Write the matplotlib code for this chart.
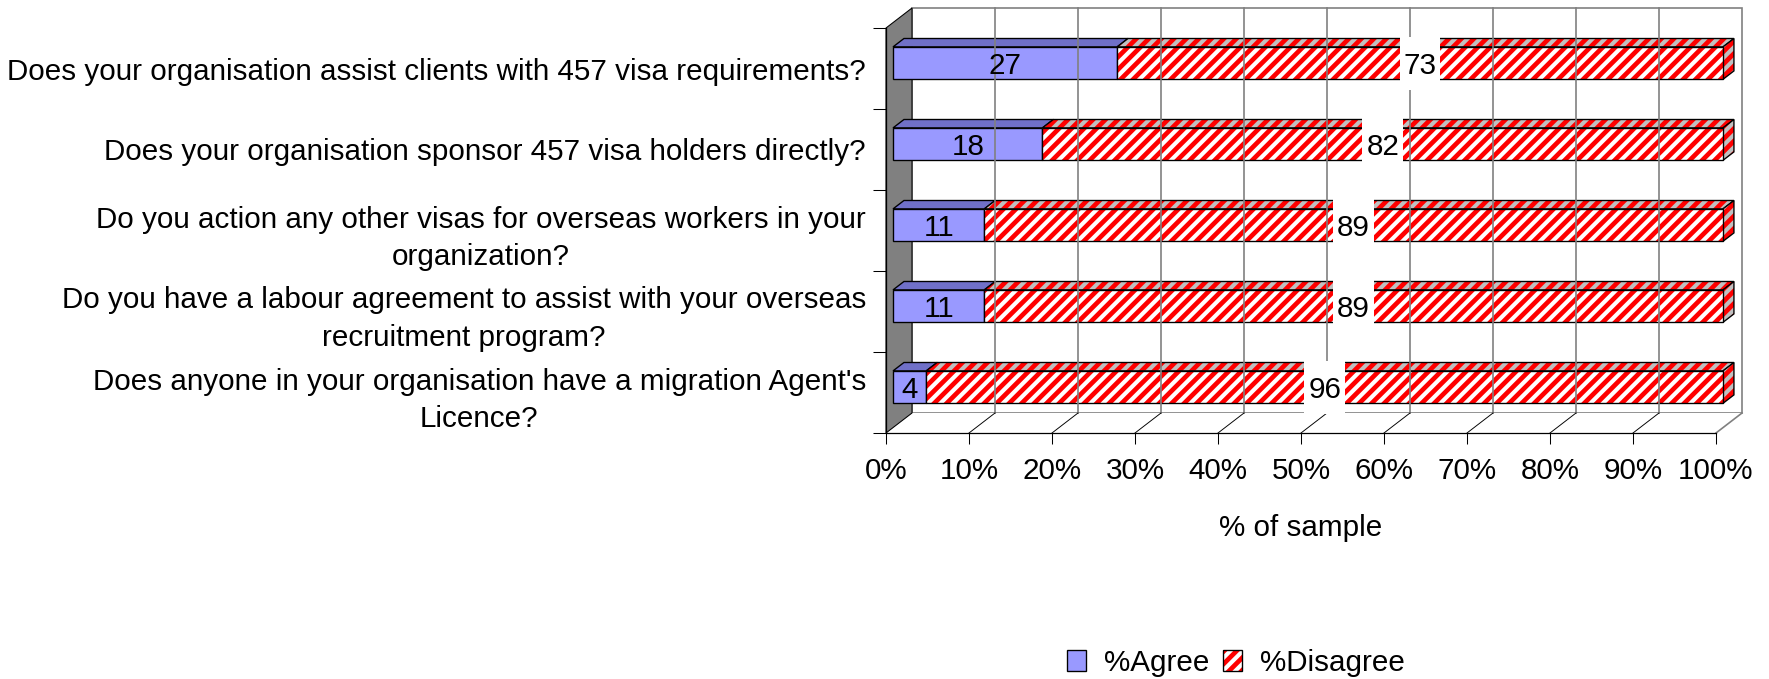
import matplotlib
matplotlib.use("Agg")
import numpy as np
import matplotlib.pyplot as plt
from matplotlib.patches import Polygon, Patch
from matplotlib.path import Path
from matplotlib.transforms import Affine2D, IdentityTransform

questions = [
    "Does your organisation assist clients with 457 visa requirements?",
    "Does your organisation sponsor 457 visa holders directly?",
    "Do you action any other visas for overseas workers in your\norganization?",
    "Do you have a labour agreement to assist with your overseas\nrecruitment program?",
    "Does anyone in your organisation have a migration Agent's\nLicence?",
]
agree = [27, 18, 11, 11, 4]
disagree = [73, 82, 89, 89, 96]
series_names = ["%Agree", "%Disagree"]
x_ticks = [0, 10, 20, 30, 40, 50, 60, 70, 80, 90, 100]

DPI = 75
PX = 72.0 / DPI          # points per pixel
W, H = 1769, 679

plt.rcParams["font.family"] = ["Liberation Sans", "DejaVu Sans"]
plt.rcParams["font.size"] = 29.6 * PX
plt.rcParams["hatch.linewidth"] = 4.5

AGREE_FRONT = "#9999FF"
AGREE_TOP = "#7070C8"
SHADE = "#C0C0C0"
GRID = "#808080"
HATCH = "//"

# depth of the 3d box in pixels, and where the bars sit inside it
DX, DY = 26, 20
Z1, Z2 = 0.27, 0.69
HALF = 0.2

fig = plt.figure(figsize=(W / DPI, H / DPI), dpi=DPI)
ax = fig.add_axes([886 / W, 246 / H, 830 / W, 405 / H])
n = len(questions)
ax.set_xlim(0, 100)
ax.set_ylim(n - 0.5, -0.5)
ax.patch.set_visible(False)


def to_px(x, y, z):
    px, py = ax.transData.transform((x, y))
    return px + z * DX, py + z * DY


def face(corners, **kw):
    pts = [to_px(*c) for c in corners]
    p = Polygon(pts, closed=True, transform=IdentityTransform(), clip_on=False, **kw)
    ax.add_artist(p)
    return p


def line(c0, c1, **kw):
    p0, p1 = to_px(*c0), to_px(*c1)
    ax.add_artist(plt.Line2D([p0[0], p1[0]], [p0[1], p1[1]],
                             transform=IdentityTransform(), clip_on=False, **kw))


def hatched(corners, fc):
    face(corners, facecolor=fc, edgecolor="red", hatch=HATCH, lw=0)
    face(corners, fill=False, edgecolor="black", lw=1.3)


top, bot = -0.5, n - 0.5

# back wall, floor and side wall
face([(0, top, 1), (100, top, 1), (100, bot, 1), (0, bot, 1)],
     facecolor="white", edgecolor=GRID, lw=1.6)
for x in x_ticks[1:-1]:
    line((x, top, 1), (x, bot, 1), color=GRID, lw=1.6)
face([(0, bot, 0), (100, bot, 0), (100, bot, 1), (0, bot, 1)],
     facecolor="white", edgecolor="none")
for x in x_ticks[1:-1]:
    line((x, bot, 1), (x, bot, 0), color="black", lw=0.9)
line((100, bot, 1), (100, bot, 0), color=GRID, lw=1.6)
face([(0, top, 0), (0, top, 1), (0, bot, 1), (0, bot, 0)],
     facecolor="#808080", edgecolor="black", lw=1.0)

# stacked 3d bars
for i in range(n):
    y0, y1 = i - HALF, i + HALF
    a = agree[i]
    face([(0, y0, Z1), (a, y0, Z1), (a, y0, Z2), (0, y0, Z2)],
         facecolor=AGREE_TOP, edgecolor="black", lw=1.3)
    face([(0, y0, Z1), (a, y0, Z1), (a, y1, Z1), (0, y1, Z1)],
         facecolor=AGREE_FRONT, edgecolor="black", lw=1.3)
    b = a + disagree[i]
    hatched([(a, y0, Z1), (b, y0, Z1), (b, y0, Z2), (a, y0, Z2)], SHADE)
    hatched([(b, y0, Z1), (b, y0, Z2), (b, y1, Z2), (b, y1, Z1)], SHADE)
    hatched([(a, y0, Z1), (b, y0, Z1), (b, y1, Z1), (a, y1, Z1)], "white")


def label_box(x0, y0, width, height, mutation_size):
    px, pb, pt = 0.13 * mutation_size, 0.34 * mutation_size, 0.5 * mutation_size
    xa, xb = x0 - px, x0 + width + px
    ya, yb = y0 - pb, y0 + height + pt
    return Path([(xa, ya), (xb, ya), (xb, yb), (xa, yb), (xa, ya)], closed=True)


front = ax.transData + Affine2D().translate(Z1 * DX, Z1 * DY)
for i in range(n):
    a = agree[i]
    ax.text(a / 2, i, str(a), transform=front, ha="center", va="center_baseline", zorder=4)
    ax.text(a + disagree[i] / 2, i, str(disagree[i]), transform=front,
            ha="center", va="center_baseline", zorder=4,
            bbox=dict(boxstyle=label_box, fc="white", ec="none"))

# axes: ticks and labels
ax.set_xticks(x_ticks, [f"{v}%" for v in x_ticks])
ax.set_yticks(np.arange(n + 1) - 0.5, [""] * (n + 1))
ax.set_yticks(np.arange(n), questions, minor=True)
for lbl in ax.get_yticklabels(minor=True):
    lbl.set_multialignment("center")
    lbl.set_linespacing(1.45)
ax.tick_params(axis="x", length=11 * PX, width=1.0, pad=13 * PX, color="black")
ax.tick_params(axis="y", which="major", length=13 * PX, width=1.0, color="black")
ax.tick_params(axis="y", which="minor", length=0, pad=20 * PX)
ax.xaxis.get_major_ticks()[-1].tick1line.set_color(GRID)
for side in ["top", "right"]:
    ax.spines[side].set_visible(False)
for side in ["left", "bottom"]:
    ax.spines[side].set_color("black")
    ax.spines[side].set_linewidth(1.2)
ax.set_xlabel("% of sample", labelpad=29 * PX)

handles = [
    Patch(facecolor=AGREE_FRONT, edgecolor="black", lw=1.3),
    (Patch(facecolor="white", edgecolor="red", hatch=HATCH, lw=0),
     Patch(fill=False, edgecolor="black", lw=1.3)),
]
fig.legend(handles, series_names, loc="center", bbox_to_anchor=(1236 / W, 1 - 663 / H),
           ncol=2, frameon=False, handlelength=0.66, handleheight=0.68,
           handletextpad=0.6, columnspacing=0.45, borderpad=0)

fig.savefig("out.png", dpi=DPI)
